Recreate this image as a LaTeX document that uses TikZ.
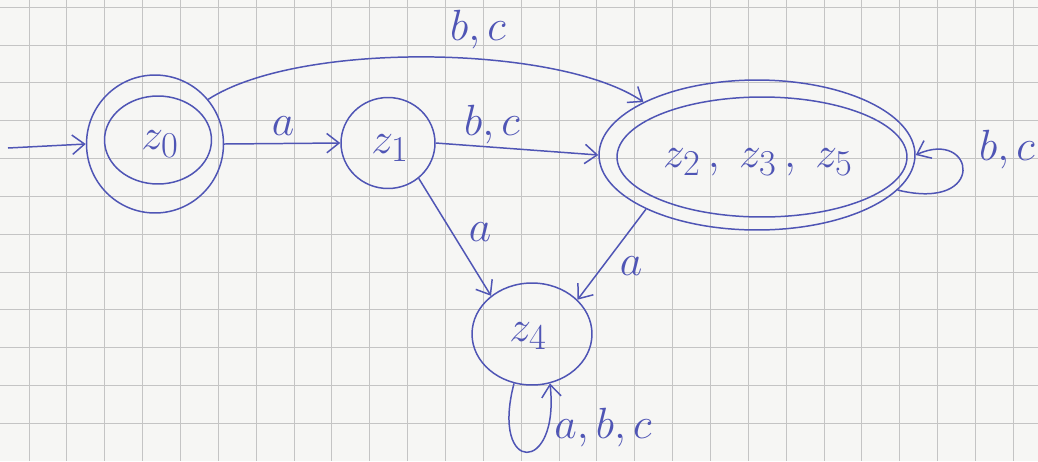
\documentclass[tikz,border=0pt]{standalone}
\usetikzlibrary{shapes.geometric,arrows.meta}
\definecolor{ink}{HTML}{4F55B5}
\definecolor{paper}{HTML}{F6F6F4}
\definecolor{gridc}{HTML}{C4C4C4}
\begin{document}
\begin{tikzpicture}[x=0.02cm,y=-0.02cm,
  ink/.style={draw=ink,line width=0.85pt},
  state/.style={ink,ellipse,inner sep=0pt},
  lbl/.style={text=ink,inner sep=1pt,font=\fontsize{24}{28}\selectfont},
  stname/.style={text=ink,inner sep=0pt,font=\fontsize{32}{36}\selectfont},
  edge/.style={ink,-{Straight Barb[length=7pt,width=11pt]}}]
\fill[paper] (0,0) rectangle (1038,461);
\useasboundingbox (0,0) rectangle (1038,461);
\foreach \k in {0,...,26} \draw[gridc,line width=0.4pt] ({29+37.85*\k},0) -- ({29+37.85*\k},461);
\foreach \k in {0,...,11} \draw[gridc,line width=0.4pt] (0,{7+37.85*\k}) -- (1038,{7+37.85*\k});
% states
\node[state,minimum width=2.74cm,minimum height=2.76cm] (z0o) at (155,144) {};
\node[state,minimum width=2.14cm,minimum height=1.76cm] (z0i) at (158,140) {};
\node[stname] (z0t) at (160,144) {$z_0$};
\node[state,minimum width=1.88cm,minimum height=1.82cm] (z1) at (388,143) {};
\node[stname] (z1t) at (390,148) {$z_1$};
\node[state,minimum width=6.32cm,minimum height=3.0cm] (z235o) at (757,155) {};
\node[state,minimum width=5.8cm,minimum height=2.4cm] (z235i) at (762,157) {};
\node[stname] (z235t) at (758,162) {$z_2\,,\; z_3\,,\; z_5$};
\node[state,minimum width=2.4cm,minimum height=2.04cm] (z4) at (532,334) {};
\node[stname] (z4t) at (528,336) {$z_4$};
% edges
\coordinate (start) at (8,148);
\draw[edge] (start) -- (z0o.west);
\draw[edge] (z0o.east) -- (z1.west);
\draw[edge] (z1.east) -- (z235o.west);
\draw[edge] (z0o.40) .. controls (300,40) and (560,45) .. (z235o.155);
\draw[edge] (z1.-49) -- (z4.137);
\draw[edge] (z235o.206) -- (z4.37);
\draw[edge] (z235o.-14) .. controls (988,212) and (975,128) .. (z235o.0);
\draw[edge] (z4.-110) .. controls (490,475) and (560,475) .. (z4.-70);
% labels
\node[lbl] (l1) at (283,126) {$a$};
\node[lbl] (l2) at (492,125) {$b,c$};
\node[lbl] (l3) at (478,30) {$b,c$};
\node[lbl] (l4) at (480,232) {$a$};
\node[lbl] (l5) at (631,266) {$a$};
\node[lbl] (l6) at (1007,150) {$b,c$};
\node[lbl] (l7) at (603,428) {$a,b,c$};
\end{tikzpicture}
\end{document}
